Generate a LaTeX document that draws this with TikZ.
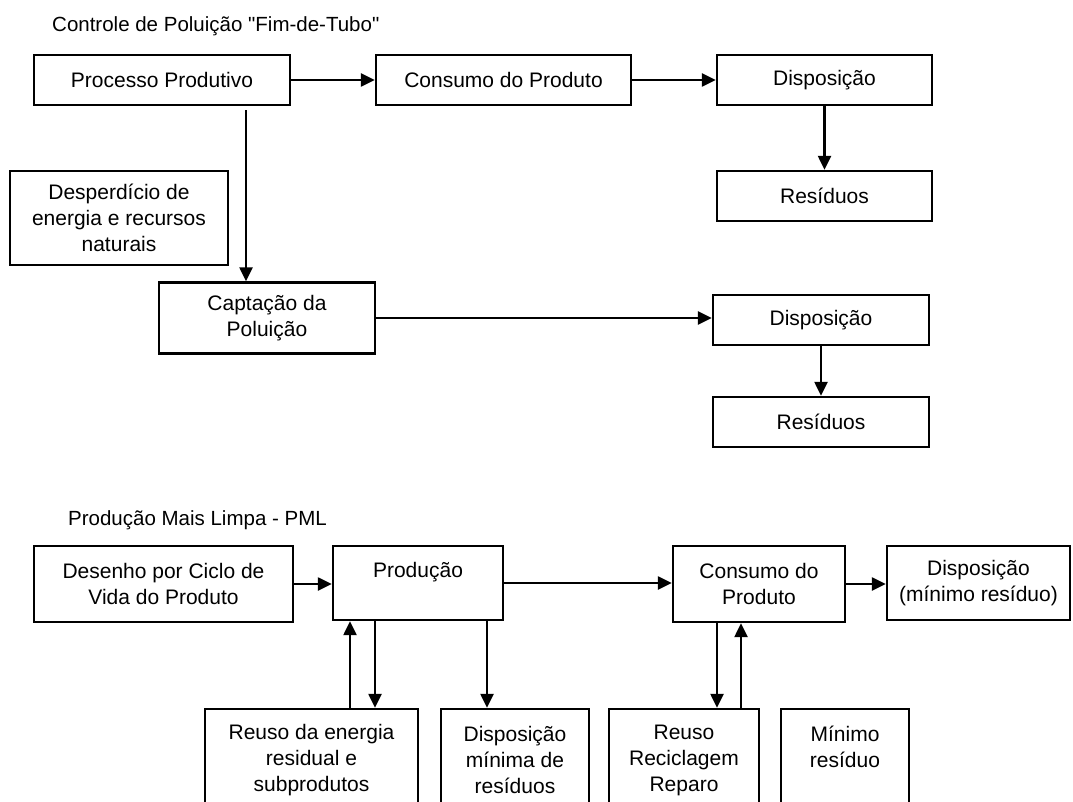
\documentclass[tikz,border=0pt]{standalone}
\usepackage{fontspec}
\setmainfont{Liberation Sans}[Ligatures=TeXOff]
\usetikzlibrary{arrows.meta,calc}
\tikzset{
box/.style 2 args={
	draw, line width=2.4pt, align=center, inner sep=0pt,
	minimum width=#1, minimum height=#2,
	font=\fontsize{21}{26}\selectfont},
arr/.style={
	line width=2.4pt, -{Triangle[length=14pt,width=13pt]}},
title/.style={
	anchor=west, inner sep=0pt, font=\fontsize{20.5}{24}\selectfont}
}

\begin{document}
\begin{tikzpicture}[x=1pt, y=-1pt]
	\useasboundingbox (0,0) rectangle (1073,802);
	% fim-de-tubo
	\node[title] (fimtubo) at (52,26) {Controle de Poluição "Fim-de-Tubo"};
	\node[box={256pt}{50pt}] (proc) at (162,80) {Processo Produtivo};
	\node[box={255pt}{50pt}] (cons) at (503.5,80) {Consumo do Produto};
	\node[box={215pt}{50pt}] (disp) at (824.5,80) {Disposição};
	\node[box={215pt}{50pt}] (res) at (824.5,196) {Resíduos};
	\node[box={218pt}{94pt}] (desp) at (119,218) {Desperdício de\\energia e recursos\\naturais};
	\node[box={216pt}{71pt}] (capt) at (267,318) {Captação da\\Poluição};
	\node[box={216pt}{50pt}] (dispc) at (821,320) {Disposição};
	\node[box={216pt}{50pt}] (resc) at (821,422) {Resíduos};
	\coordinate (pv) at ($(proc.south)+(84,4)$);
	\draw[arr] (proc.east) -- (proc.east -| cons.west);
	\draw[arr] (cons.east) -- (cons.east -| disp.west);
	\draw[arr] (disp) -- (res);
	\draw[arr] (pv) -- (pv |- capt.north);
	\draw[arr] (capt.east) -- (capt.east -| dispc.west);
	\draw[arr] (dispc) -- (resc);
	% pml
	\node[title] (pml) at (68,520) {Produção Mais Limpa - PML};
	\node[box={259pt}{76pt}] (ciclo) at (163.5,584) {Desenho por Ciclo de\\Vida do Produto};
	\node[box={170pt}{74pt}] (prod) at (418,583) {Produção\\~};
	\node[box={172pt}{76pt}] (consp) at (759,584) {Consumo do\\Produto};
	\node[box={183pt}{74pt}] (dispm) at (978.5,583) {Disposição\\(mínimo resíduo)};
	\node[box={213pt}{102pt}] (reuso) at (311.5,760) {Reuso da energia\\residual e\\subprodutos};
	\node[box={148pt}{102pt}] (dmin) at (515,760) {Disposição\\mínima de\\resíduos};
	\node[box={150pt}{102pt}] (recic) at (684,760) {Reuso\\Reciclagem\\Reparo};
	\node[box={128pt}{102pt}] (minres) at (845,760) {Mínimo\\resíduo\\~};
	\coordinate (pa) at ($(prod.south)+(-68,0)$);
	\coordinate (pb) at ($(prod.south)+(-43,0)$);
	\coordinate (pc) at ($(prod.south)+(69,0)$);
	\coordinate (ca) at ($(consp.south)+(-42,0)$);
	\coordinate (cb) at ($(consp.south)+(-18,0)$);
	\draw[arr] (ciclo.east) -- (ciclo.east -| prod.west);
	\draw[arr] (prod.east) -- (prod.east -| consp.west);
	\draw[arr] (consp.east) -- (consp.east -| dispm.west);
	\draw[arr] (pa |- reuso.north) -- (pa);
	\draw[arr] (pb) -- (pb |- reuso.north);
	\draw[arr] (pc) -- (pc |- dmin.north);
	\draw[arr] (ca) -- (ca |- recic.north);
	\draw[arr] (cb |- recic.north) -- (cb);
\end{tikzpicture}
\end{document}
